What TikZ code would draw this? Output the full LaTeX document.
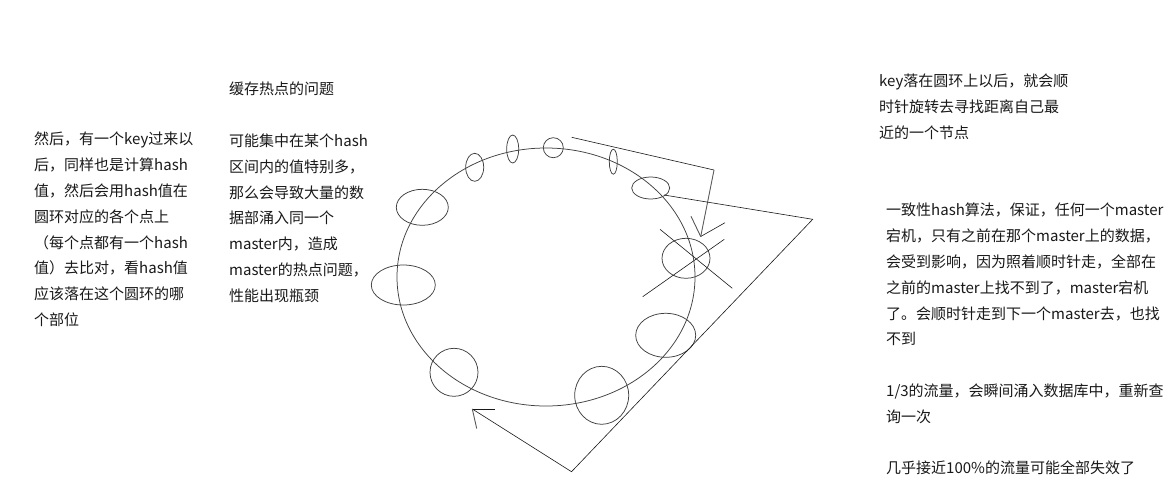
\documentclass[tikz,border=0pt]{standalone}
\usepackage{fontspec}
\setmainfont{Noto Sans CJK SC}
\usetikzlibrary{shapes.geometric}
\begin{document}
\begin{tikzpicture}[x=1pt,y=-1pt,
  ring/.style={draw=black!75,line width=0.75pt,ellipse,inner sep=0pt},
  wire/.style={draw=black!90,line width=0.6pt},
  barb/.style={draw=black!65,line width=0.9pt},
  txt/.style={anchor=north west,inner sep=0pt,align=left,text=black!90,font=\fontsize{15}{25.8}\selectfont}]
\useasboundingbox (0,0) rectangle (1172,501);
\fill[white] (0,0) rectangle (1172,501);

% texts
\node[txt] (left) at (34,132) {然后，有一个key过来以\\后，同样也是计算hash\\值，然后会用hash值在\\圆环对应的各个点上\\（每个点都有一个hash\\值）去比对，看hash值\\应该落在这个圆环的哪\\个部位};
\node[txt] (mid) at (229,82) {缓存热点的问题\\[25.8pt]可能集中在某个hash\\区间内的值特别多，\\那么会导致大量的数\\据部涌入同一个\\master内，造成\\master的热点问题，\\性能出现瓶颈};
\node[txt] (rtop) at (879,74) {key落在圆环上以后，就会顺\\时针旋转去寻找距离自己最\\近的一个节点};
\node[txt] (rbot) at (886,203) {一致性hash算法，保证，任何一个master\\宕机，只有之前在那个master上的数据，\\会受到影响，因为照着顺时针走，全部在\\之前的master上找不到了，master宕机\\了。会顺时针走到下一个master去，也找\\不到\\[25.8pt]1/3的流量，会瞬间涌入数据库中，重新查\\询一次\\[25.8pt]几乎接近100\%的流量可能全部失效了};

% big ring
\node[ring,minimum width=298pt,minimum height=258pt] (ring) at (546,277) {};
% small nodes on ring
\node[ring,minimum width=18pt,minimum height=28pt] (n1) at (474.7,167.3) {};
\node[ring,minimum width=12pt,minimum height=28pt] (n2) at (512.7,149) {};
\node[ring,minimum width=20pt,minimum height=20pt] (n3) at (553.3,147.7) {};
\node[ring,minimum width=8pt,minimum height=25pt] (n4) at (613.3,161.7) {};
\node[ring,minimum width=38pt,minimum height=22pt] (n5) at (650.7,188) {};
\node[ring,minimum width=52pt,minimum height=36pt] (n6) at (422.3,207.3) {};
\node[ring,minimum width=64pt,minimum height=40pt] (n7) at (403.3,285) {};
\node[ring,minimum width=48pt,minimum height=40pt] (n8) at (686,258.3) {};
\node[ring,minimum width=60pt,minimum height=44pt] (n9) at (665.7,335.3) {};
\node[ring,minimum width=48pt,minimum height=48pt] (n10) at (454,372.3) {};
\node[ring,minimum width=54pt,minimum height=58pt] (n11) at (601.7,395.3) {};

% arrow A
\coordinate (a0) at (571.7,137.3);
\coordinate (a1) at (714,170);
\coordinate (atip) at (700.7,236.5);
\coordinate (ab1) at (691,216.3);
\coordinate (ab2) at (725,222.7);
\draw[wire] (a0) -- (a1);
\draw[barb] (a1) -- (atip);
\draw[barb] (ab1) -- (atip);
\draw[wire] (atip) -- (ab2);

% arrow B
\coordinate (b0) at (664,195);
\coordinate (b1) at (812.7,219.3);
\coordinate (b2) at (571.5,471.7);
\coordinate (btip) at (472.3,409);
\coordinate (bb1) at (495,409);
\coordinate (bb2) at (476.7,428.5);
\draw[wire] (b0) -- (b1) -- (b2) -- (btip);
\draw[wire] (btip) -- (bb1);
\draw[barb] (btip) -- (bb2);

% cross
\coordinate (c1) at (660,229.3);
\coordinate (c2) at (732.3,288.3);
\coordinate (c3) at (724.3,239.3);
\coordinate (c4) at (642.7,296.7);
\draw[wire] (c1) -- (c2);
\draw[wire] (c3) -- (c4);
\end{tikzpicture}
\end{document}
